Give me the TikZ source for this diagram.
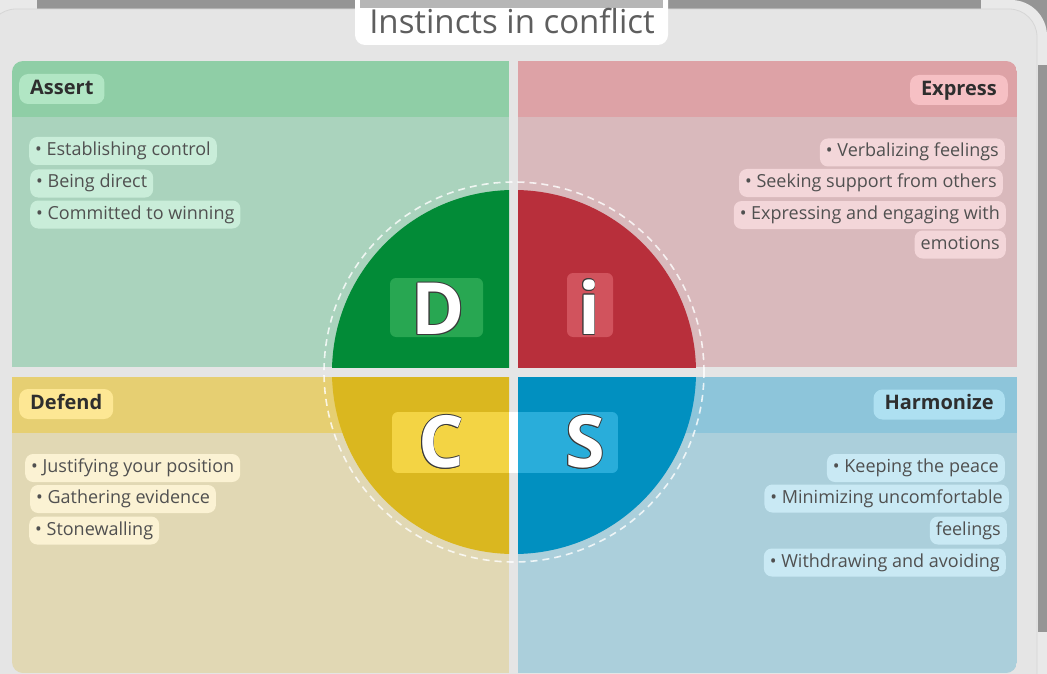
\documentclass[tikz,border=0pt]{standalone}
\usepackage{fontspec}
\setmainfont{Open Sans}
\definecolor{frame}{HTML}{E9E9E9}
\definecolor{panel}{HTML}{E5E5E5}
\definecolor{panelline}{HTML}{D6D6D6}
\definecolor{darkbar}{HTML}{959595}
\definecolor{titlebar}{HTML}{B6B6B6}
\definecolor{gHead}{HTML}{8FCEA6}
\definecolor{gBody}{HTML}{AAD3BD}
\definecolor{gItem}{HTML}{C9EDD9}
\definecolor{gLab}{HTML}{B1E6C4}
\definecolor{rHead}{HTML}{DDA2A6}
\definecolor{rBody}{HTML}{D9B9BC}
\definecolor{rItem}{HTML}{F3D6D9}
\definecolor{rLab}{HTML}{F6C0C4}
\definecolor{yHead}{HTML}{E6CF72}
\definecolor{yBody}{HTML}{E1D8B4}
\definecolor{yItem}{HTML}{FBF2D3}
\definecolor{yLab}{HTML}{FDE794}
\definecolor{bHead}{HTML}{8DC5DA}
\definecolor{bBody}{HTML}{ABCFDB}
\definecolor{bItem}{HTML}{C9E9F4}
\definecolor{bLab}{HTML}{AEE0F1}
\definecolor{cD}{HTML}{028B37}
\definecolor{cI}{HTML}{B82F3B}
\definecolor{cC}{HTML}{DAB71F}
\definecolor{cS}{HTML}{0190C0}
\definecolor{bxD}{HTML}{28A752}
\definecolor{bxI}{HTML}{D1535D}
\definecolor{bxC}{HTML}{F3D444}
\definecolor{bxS}{HTML}{29ADDA}
\definecolor{labtext}{HTML}{2E2E2E}
\definecolor{itemtext}{HTML}{505050}
\definecolor{titletext}{HTML}{5E5E5E}
\definecolor{outline}{HTML}{3A3A3A}
\tikzset{
  itembox/.style={fill=#1, rounded corners=8bp, inner xsep=6bp, inner ysep=0pt,
    minimum height=28bp, text height=13.5bp, text depth=4.5bp, text=itemtext,
    font=\fontsize{18bp}{21bp}\selectfont},
  labbox/.style={fill=#1, rounded corners=9bp, inner xsep=11bp, inner ysep=0pt,
    minimum height=30bp, text height=15bp, text depth=4.5bp, text=labtext,
    font=\fontsize{20bp}{23bp}\selectfont\bfseries},
  letter/.style={inner sep=0pt, font=\fontsize{72bp}{72bp}\selectfont\bfseries},
  letterbox/.style={fill=#1, rounded corners=6bp},
}
\newcommand{\outlinedletter}[3]{%
  \foreach \dx/\dy in {-0.9/0,0.9/0,0/-0.9,0/0.9,-0.65/-0.65,0.65/0.65,-0.65/0.65,0.65/-0.65}{%
    \node[letter, text=outline] at ([shift={(\dx,\dy)}]#1) {#3};}
  \node[letter, text=white] (#2) at (#1) {#3};}
\begin{document}
\begin{tikzpicture}[x=1bp,y=-1bp]
\useasboundingbox (0,0) rectangle (1047,674);
% outer frame
\fill[frame] (0,0) rectangle (1047,674);
\fill[darkbar] (37,0) rectangle (981,9);
\fill[darkbar] (1000,0) rectangle (1047,50);
\fill[frame] (981,0) [rounded corners=36bp] -- (1047,0) [sharp corners] -- (1047,65) -- (981,65) -- cycle;
\fill[darkbar] (1038,65) rectangle (1047,632);
% inner panel
\draw[fill=panel, draw=panelline, line width=0.8bp, rounded corners=28bp] (-12,9) rectangle (1037,700);
% title
\fill[white, rounded corners=10bp] (355,-12) rectangle (668,45);
\fill[titlebar] (360,0) rectangle (663,8);
\node[inner sep=0pt, text=titletext, font=\fontsize{33bp}{36bp}\selectfont] (title) at (512,21) {Instincts in conflict};
% quadrants
\begin{scope}
\clip[rounded corners=11bp] (12,61) rectangle (1017,673);
\fill[gHead] (12,61) rectangle (509,117);
\fill[gBody] (12,117) rectangle (509,367);
\fill[rHead] (518,61) rectangle (1017,117);
\fill[rBody] (518,117) rectangle (1017,367);
\fill[yHead] (12,377) rectangle (509,433);
\fill[yBody] (12,433) rectangle (509,673);
\fill[bHead] (518,377) rectangle (1017,433);
\fill[bBody] (518,433) rectangle (1017,673);
\end{scope}
% labels
\node[labbox=gLab, anchor=west] (assert) at (19,89) {Assert};
\node[labbox=rLab, anchor=east] (express) at (1008,90) {Express};
\node[labbox=yLab, anchor=west] (defend) at (19,404) {Defend};
\node[labbox=bLab, anchor=east] (harmonize) at (1005,404.5) {Harmonize};
% items
\node[itembox=gItem, anchor=west] (a1) at (29,151) {• Establishing control};
\node[itembox=gItem, anchor=west] (a2) at (30,183.5) {• Being direct};
\node[itembox=gItem, anchor=west] (a3) at (30,214.5) {• Committed to winning};
\node[itembox=rItem, anchor=east] (e1) at (1005,152.5) {• Verbalizing feelings};
\node[itembox=rItem, anchor=east] (e2) at (1003,183) {• Seeking support from others};
\node[itembox=rItem, anchor=east] (e3) at (1006,215) {• Expressing and engaging with};
\node[itembox=rItem, anchor=east] (e4) at (1006,244.5) {emotions};
\node[itembox=yItem, anchor=west] (d1) at (25,468) {• Justifying your position};
\node[itembox=yItem, anchor=west] (d2) at (30,499) {• Gathering evidence};
\node[itembox=yItem, anchor=west] (d3) at (29,530.5) {• Stonewalling};
\node[itembox=bItem, anchor=east] (h1) at (1005,468) {• Keeping the peace};
\node[itembox=bItem, anchor=east] (h2) at (1009,498.5) {• Minimizing uncomfortable};
\node[itembox=bItem, anchor=east] (h3) at (1007,530.5) {feelings};
\node[itembox=bItem, anchor=east] (h4) at (1006,562.5) {• Withdrawing and avoiding};
% dashed ring
\draw[white, line width=1.6bp, dash pattern=on 7bp off 5bp, opacity=0.8] (514,372) circle[radius=190bp];
% circle quadrants
\begin{scope}\clip (300,170) rectangle (509,367); \fill[cD] (514,372) circle[radius=182bp]; \end{scope}
\begin{scope}\clip (518,170) rectangle (720,367); \fill[cI] (514,372) circle[radius=182bp]; \end{scope}
\begin{scope}\clip (300,377) rectangle (509,580); \fill[cC] (514,372) circle[radius=182bp]; \end{scope}
\begin{scope}\clip (518,377) rectangle (720,580); \fill[cS] (514,372) circle[radius=182bp]; \end{scope}
% letter boxes
\fill[letterbox=bxD] (390,278) rectangle (483,337);
\fill[letterbox=bxI] (567,273) rectangle (613,337);
\begin{scope}
\clip[rounded corners=6bp] (392,412) rectangle (618,473);
\fill[bxC] (392,412) rectangle (509,473);
\fill[white] (509,412) rectangle (518,473);
\fill[bxS] (518,412) rectangle (618,473);
\end{scope}
% letters
\outlinedletter{438,309}{D}{D}
\outlinedletter{589,307}{I}{i}
\outlinedletter{441,442}{C}{C}
\outlinedletter{585,442}{S}{S}
\end{tikzpicture}
\end{document}
